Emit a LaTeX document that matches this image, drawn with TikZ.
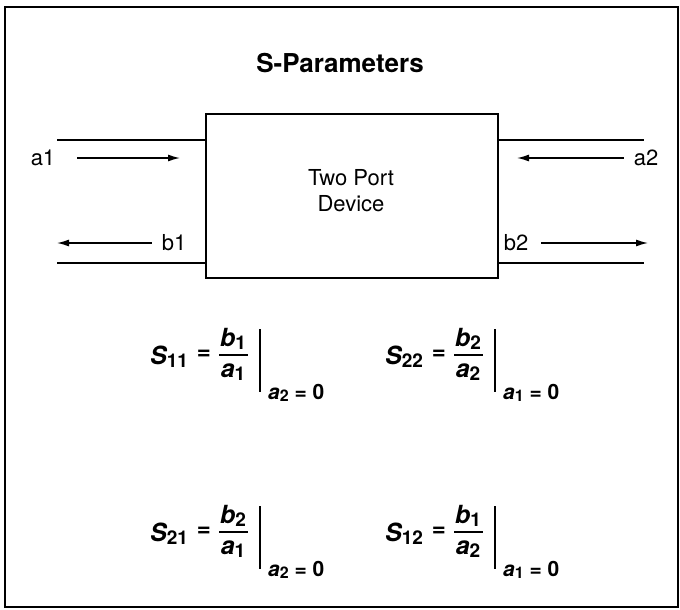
\documentclass[tikz,border=0pt]{standalone}
\usepackage{fontspec}
\setmainfont{TeX Gyre Heros}
\usetikzlibrary{arrows.meta}

% large bold italic symbol with a lowered index
\newcommand\bigsym[2]{{\fontsize{25}{27}\selectfont\bfseries\itshape #1\raisebox{-3pt}{\fontsize{19}{20}\selectfont\upshape #2}}}
% evaluation condition, e.g. a2 = 0
\newcommand\condtext[3]{{\fontsize{21}{22}\selectfont\bfseries\itshape #1\raisebox{-2.5pt}{\fontsize{16}{17}\selectfont\upshape #2}\upshape\ = #3}}

% one S-parameter definition: name, origin, index, num, num index, den, den index, cond var, cond index
\newcommand\sformula[9]{%
  \begin{scope}[shift={#2}]
    \node[fx,anchor=west] (#1-s) at (0,2) {\bigsym{S}{#3}};
    \node[fx] (#1-eq) at (54,0) {\fontsize{24}{26}\selectfont\bfseries =};
    \node[fx] (#1-num) at (83,-16) {\bigsym{#4}{#5}};
    \node[fx] (#1-den) at (83,17) {\bigsym{#6}{#7}};
    \coordinate (#1-bl) at (69,0);
    \coordinate (#1-br) at (98,0);
    \draw[fracbar] (#1-bl) -- (#1-br);
    \coordinate (#1-top) at (110,-26);
    \coordinate (#1-bot) at (110,37);
    \draw[evalbar] (#1-top) -- (#1-bot);
    \node[fx,anchor=west] (#1-c) at (118,38) {\condtext{#8}{#9}{0}};
  \end{scope}}

\begin{document}
\begin{tikzpicture}[x=1pt,y=-1pt,
  outer/.style={line width=1.8pt},
  device/.style={draw,line width=1.6pt,inner sep=0pt},
  port/.style={line width=1.5pt},
  wave/.style={line width=1.4pt,-{Latex[length=12pt,width=7pt]}},
  lbl/.style={font=\fontsize{22}{24}\selectfont,inner sep=0pt},
  titletext/.style={font=\fontsize{26}{28}\selectfont\bfseries,inner sep=0pt},
  fx/.style={inner sep=0pt},
  fracbar/.style={line width=1.2pt},
  evalbar/.style={line width=1.5pt}]

\useasboundingbox (0,0) rectangle (680,610);
\draw[outer] (5,7) rectangle (678,607);

\node[titletext] (title) at (340,63) {S-Parameters};

% the two-port device
\node[device,anchor=north west,minimum width=292pt,minimum height=164pt] (dev) at (205,113) {};
\node[lbl] (two) at (351,178) {Two Port};
\node[lbl] (devname) at (351,204) {Device};

% port lines
\coordinate (pl1) at (57,140);
\coordinate (pl2) at (57,263);
\coordinate (pr1) at (644,140);
\coordinate (pr2) at (644,263);
\draw[port] (pl1) -- (dev.west |- pl1);
\draw[port] (pl2) -- (dev.west |- pl2);
\draw[port] (dev.east |- pr1) -- (pr1);
\draw[port] (dev.east |- pr2) -- (pr2);

% incident and reflected waves
\node[lbl] (a1) at (43,158) {a1};
\node[lbl] (b1) at (174,243) {b1};
\node[lbl] (a2) at (646,158) {a2};
\node[lbl] (b2) at (516,243) {b2};
\coordinate (a1tip) at (180,158);
\coordinate (b1tip) at (57,243);
\coordinate (a2tip) at (517,158);
\coordinate (b2tip) at (648,243);
\draw[wave] ([xshift=22pt]a1.east) -- (a1tip);
\draw[wave] ([xshift=-10pt]b1.west) -- (b1tip);
\draw[wave] ([xshift=-10pt]a2.west) -- (a2tip);
\draw[wave] ([xshift=13pt]b2.east) -- (b2tip);

% definitions
\sformula{s11}{(150,355)}{11}{b}{1}{a}{1}{a}{2}
\sformula{s22}{(385,355)}{22}{b}{2}{a}{2}{a}{1}
\sformula{s21}{(150,532)}{21}{b}{2}{a}{1}{a}{2}
\sformula{s12}{(385,532)}{12}{b}{1}{a}{2}{a}{1}

\end{tikzpicture}
\end{document}
